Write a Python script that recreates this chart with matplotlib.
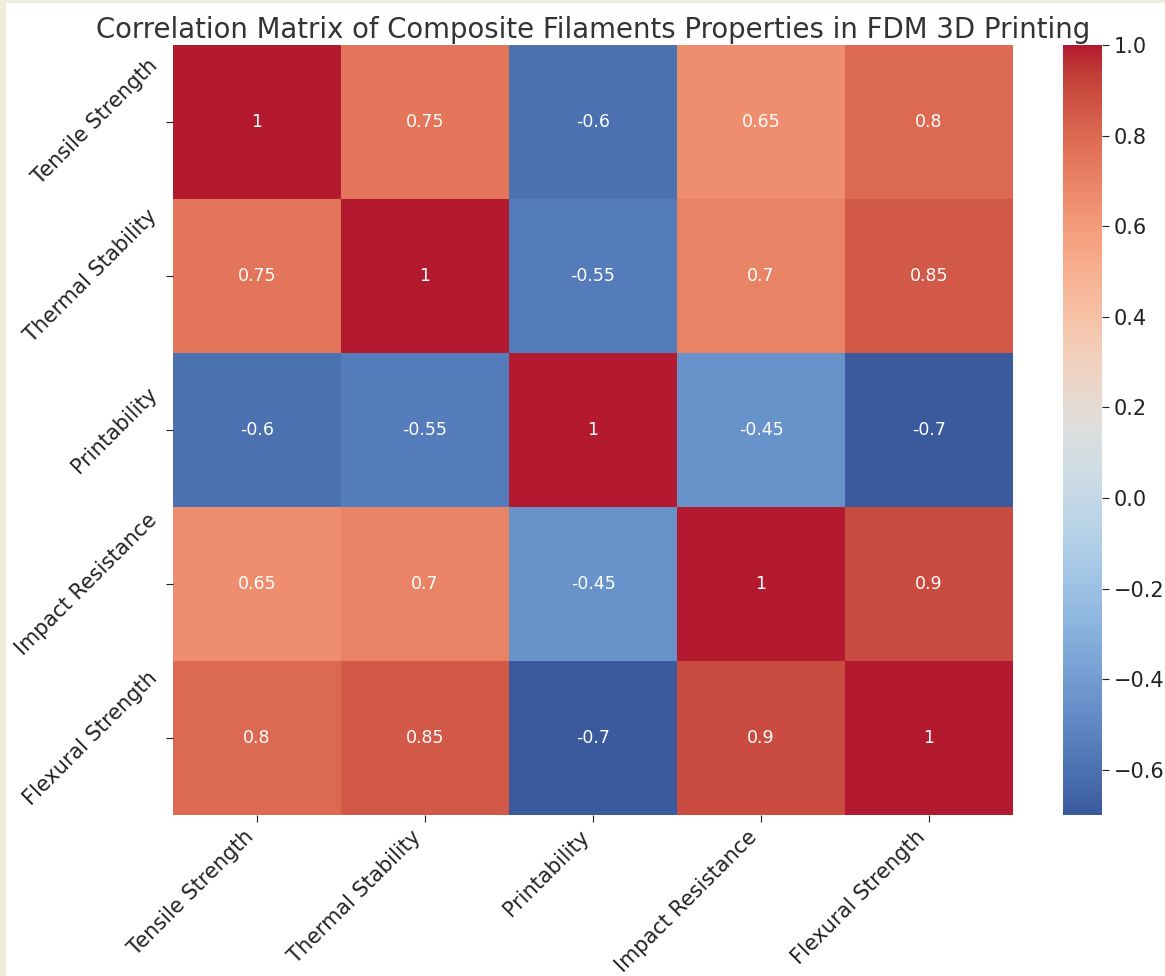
import numpy as np
import pandas as pd
import matplotlib
matplotlib.use("Agg")
import matplotlib.pyplot as plt
import seaborn as sns
from matplotlib.patches import Rectangle
from matplotlib.colors import ListedColormap

properties = ["Tensile Strength", "Thermal Stability", "Printability",
              "Impact Resistance", "Flexural Strength"]

tensile = [1.0, 0.75, -0.6, 0.65, 0.8]
thermal = [0.75, 1.0, -0.55, 0.7, 0.85]
printability = [-0.6, -0.55, 1.0, -0.45, -0.7]
impact = [0.65, 0.7, -0.45, 1.0, 0.9]
flexural = [0.8, 0.85, -0.7, 0.9, 1.0]

corr = pd.DataFrame([tensile, thermal, printability, impact, flexural],
                    index=properties, columns=properties)


def muted_coolwarm(n=256):
    """Coolwarm with a lifted green channel and tamed blues."""
    rgb = plt.get_cmap("coolwarm")(np.linspace(0, 1, n))[:, :3]
    r = rgb[:, 0]
    g = rgb[:, 1] + (23 / 255) * (1 - rgb[:, 1]) - 0.04 * rgb[:, 1] * (1 - rgb[:, 1])
    b = rgb[:, 2] + (10 / 255) * (1 - rgb[:, 2]) - 0.28 * np.maximum(0, rgb[:, 2] - r)
    return ListedColormap(np.clip(np.stack([r, g, b], axis=1), 0, 1))


cmap = muted_coolwarm()

fig = plt.figure(figsize=(11.65, 9.76), dpi=100)
fig.patch.set_facecolor("white")

# thin cream frame on the left and top edges
fig.add_artist(Rectangle((0, 0), 6 / 1165, 1, transform=fig.transFigure,
                         facecolor="#efeedd", edgecolor="none", zorder=10))
fig.add_artist(Rectangle((0, 1 - 3 / 976), 1, 3 / 976, transform=fig.transFigure,
                         facecolor="#efeedd", edgecolor="none", zorder=10))

ax = fig.add_axes([173 / 1165, 1 - 815 / 976, 840 / 1165, 770 / 976])
cax = fig.add_axes([1063 / 1165, 1 - 815 / 976, 39 / 1165, 770 / 976])

sns.heatmap(corr, ax=ax, cbar_ax=cax, cmap=cmap, vmin=-0.7, vmax=1.0,
            annot=True, annot_kws={"color": "white", "fontsize": 12.5})

ax.set_xticklabels(properties, rotation=45, ha="right", fontsize=15)
ax.set_yticklabels(properties, rotation=45, ha="right", va="center",
                   fontsize=15)
ax.tick_params(axis="both", length=5, colors="#222222", labelcolor="#222222")

cax.tick_params(labelsize=15, length=5, colors="#222222", labelcolor="#222222")
cax.set_yticks([-0.6, -0.4, -0.2, 0.0, 0.2, 0.4, 0.6, 0.8, 1.0])

ax.set_title("Correlation Matrix of Composite Filaments Properties in FDM 3D Printing",
             fontsize=19.8, color="#333333", pad=5)

fig.savefig("out.png", dpi=100)
